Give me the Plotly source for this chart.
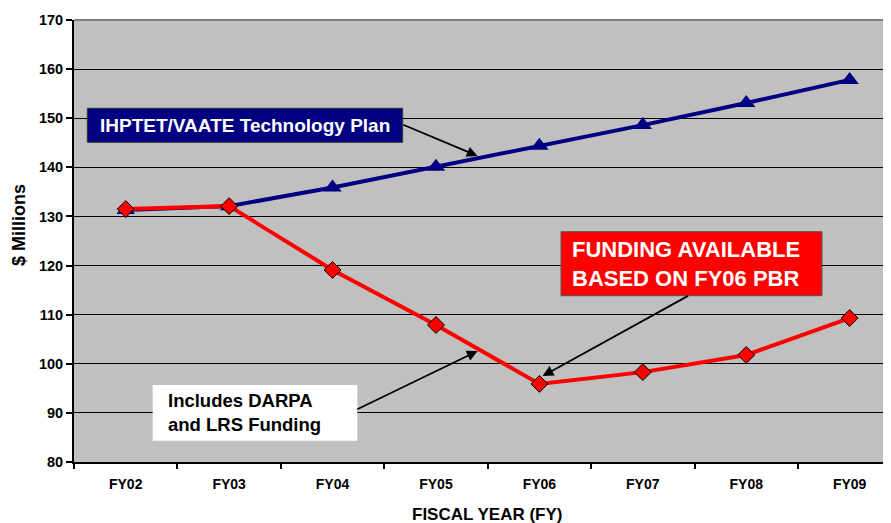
import plotly.graph_objects as go

years = ["FY02", "FY03", "FY04", "FY05", "FY06", "FY07", "FY08", "FY09"]
plan = [131.3, 132.1, 135.9, 140.1, 144.4, 148.6, 153.1, 157.8]
funding = [131.5, 132.1, 119.1, 107.9, 95.9, 98.3, 101.8, 109.3]
y_ticks = [80, 90, 100, 110, 120, 130, 140, 150, 160, 170]

FONT = "Arial, Liberation Sans, sans-serif"

fig = go.Figure()
fig.add_trace(go.Scatter(
    x=years, y=plan, mode="lines+markers",
    line=dict(color="#000080", width=4),
    marker=dict(symbol="triangle-up", size=16, color="#000080"),
    showlegend=False, cliponaxis=False))
fig.add_trace(go.Scatter(
    x=years, y=funding, mode="lines+markers",
    line=dict(color="#FF0000", width=4),
    marker=dict(symbol="diamond", size=13, color="#FF0000",
                line=dict(color="#000000", width=1)),
    showlegend=False, cliponaxis=False))

# Label boxes (paper coordinates)
fig.add_shape(type="rect", xref="paper", yref="paper", x0=0.0163, x1=0.4023,
              y0=0.7233, y1=0.8002, fillcolor="#000080",
              line=dict(color="#333333", width=1), layer="above")
fig.add_shape(type="rect", xref="paper", yref="paper", x0=0.5961, x1=0.9155,
              y0=0.3762, y1=0.5210, fillcolor="#FF0000",
              line=dict(color="#555555", width=1), layer="above")
fig.add_shape(type="rect", xref="paper", yref="paper", x0=0.0963, x1=0.3468,
              y0=0.0482, y1=0.1742, fillcolor="white",
              line=dict(width=0), layer="above")

fig.add_annotation(x=0.2093, y=0.7618, xref="paper", yref="paper",
                   text="IHPTET/VAATE Technology Plan", showarrow=False,
                   font=dict(family=FONT, size=19, color="white", weight="bold"),
                   xanchor="center", yanchor="middle")
fig.add_annotation(x=0.6075, y=0.448, xref="paper", yref="paper",
                   text="FUNDING AVAILABLE<br>BASED ON FY06 PBR", showarrow=False,
                   font=dict(family=FONT, size=22, color="white", weight="bold"),
                   xanchor="left", yanchor="middle", align="left")
fig.add_annotation(x=0.1125, y=0.1109, xref="paper", yref="paper",
                   text="Includes DARPA<br>and LRS Funding", showarrow=False,
                   font=dict(family=FONT, size=18.5, color="black", weight="bold"),
                   xanchor="left", yanchor="middle", align="left")

# Arrows (head, tail) in data coordinates
arrows = [
    (3.403, 142.3, 2.669, 148.8),
    (4.031, 97.5, 5.452, 114.0),
    (3.403, 102.6, 2.225, 90.6),
]
for hx, hy, tx, ty in arrows:
    fig.add_annotation(x=hx, y=hy, ax=tx, ay=ty, xref="x", yref="y",
                       axref="x", ayref="y", text="", showarrow=True,
                       arrowhead=2, arrowsize=1.2, arrowwidth=1.8, arrowcolor="black")

# Axis titles
fig.add_annotation(x=0.506, y=-0.118, xref="paper", yref="paper",
                   text="FISCAL YEAR (FY)", showarrow=False,
                   font=dict(family=FONT, size=17, color="black", weight="bold"),
                   xanchor="center", yanchor="middle")
fig.add_annotation(x=-0.068, y=0.537, xref="paper", yref="paper",
                   text="$ Millions", showarrow=False, textangle=-90,
                   font=dict(family=FONT, size=18, color="black", weight="bold"),
                   xanchor="center", yanchor="middle")

fig.add_shape(type="line", xref="paper", yref="paper", x0=0, x1=1, y0=1, y1=1,
              line=dict(color="#808080", width=2))

# The page body has an 8px default margin, so the figure is sized to fit the window.
fig.update_layout(
    width=883, height=515,
    margin=dict(l=66, r=0, t=12, b=61, autoexpand=False),
    paper_bgcolor="white", plot_bgcolor="#C0C0C0",
    font=dict(family=FONT, color="black"),
    xaxis=dict(type="category", range=[-0.5, 7.4], tickson="boundaries",
               ticks="outside", ticklen=5, tickcolor="black", tickwidth=1.5,
               showgrid=False, showline=True, linecolor="black", linewidth=2,
               tickfont=dict(size=14, family=FONT, weight="bold"), zeroline=False,
               automargin=False, ticklabelstandoff=8),
    yaxis=dict(range=[80, 170], tickvals=y_ticks, ticks="outside", ticklen=6,
               tickcolor="black", tickwidth=1.5, showgrid=True, gridcolor="black",
               gridwidth=1, showline=True, linecolor="black", linewidth=2,
               zeroline=False, automargin=False,
               tickfont=dict(size=14.5, family=FONT, weight="bold")),
)

fig.write_html("out.html")
